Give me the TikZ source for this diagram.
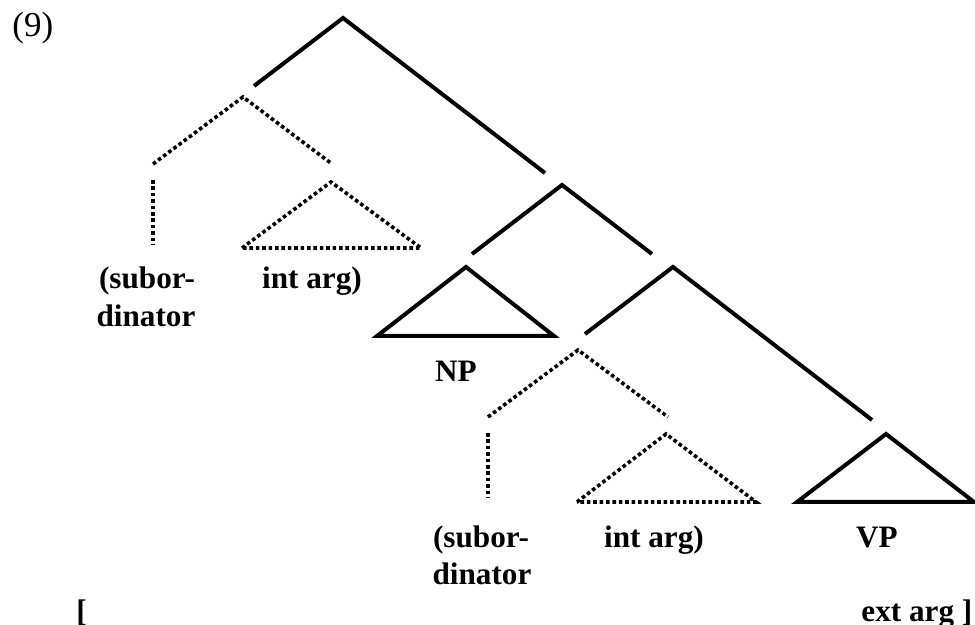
\documentclass[tikz,border=0pt]{standalone}
\usepackage{fontspec}
\setmainfont{Liberation Serif}
\begin{document}
\begin{tikzpicture}[x=0.5pt,y=-0.5pt,
  solidbranch/.style={line width=2pt,line cap=butt,line join=miter},
  dotbranch/.style={line width=1.8pt,dash pattern=on 1.8pt off 1.4pt},
  lab/.style={inner sep=0pt,anchor=base,font=\fontsize{15.6}{19}\selectfont\bfseries},
  num/.style={inner sep=0pt,anchor=base west,font=\fontsize{17.5}{21}\selectfont}]
\useasboundingbox (0,0) rectangle (975,625);
% coordinates
\coordinate (t0) at (343,18);
\coordinate (t0l) at (254,86);
\coordinate (t0r) at (545,173);
\coordinate (d1) at (243,97);
\coordinate (d1l) at (153,164);
\coordinate (d1r) at (332,164);
\coordinate (v1a) at (153,180);
\coordinate (v1b) at (153,245);
\coordinate (tr1) at (331,182);
\coordinate (tr1l) at (242,248);
\coordinate (tr1r) at (421,248);
\coordinate (n2) at (562,185);
\coordinate (n2l) at (472,254);
\coordinate (n2r) at (652,254);
\coordinate (np) at (466,267);
\coordinate (npl) at (377,336);
\coordinate (npr) at (554,336);
\coordinate (n3) at (673,267);
\coordinate (n3l) at (585,334);
\coordinate (n3r) at (872,420);
\coordinate (d2) at (578,350);
\coordinate (d2l) at (488,417);
\coordinate (d2r) at (668,417);
\coordinate (v2a) at (488,433);
\coordinate (v2b) at (488,498);
\coordinate (tr2) at (666,434);
\coordinate (tr2l) at (577,502);
\coordinate (tr2r) at (756,502);
\coordinate (vp) at (886,434);
\coordinate (vpl) at (797,502);
\coordinate (vpr) at (974,502);
% solid branches
\draw[solidbranch] (t0l) -- (t0) -- (t0r);
\draw[solidbranch] (n2l) -- (n2) -- (n2r);
\draw[solidbranch] (npl) -- (np) -- (npr) -- cycle;
\draw[solidbranch] (n3l) -- (n3) -- (n3r);
\draw[solidbranch] (vpl) -- (vp) -- (vpr) -- cycle;
% dotted branches
\draw[dotbranch] (d1l) -- (d1) -- (d1r);
\draw[dotbranch] (v1a) -- (v1b);
\draw[dotbranch] (tr1l) -- (tr1) -- (tr1r) -- cycle;
\draw[dotbranch] (d2l) -- (d2) -- (d2r);
\draw[dotbranch] (v2a) -- (v2b);
\draw[dotbranch] (tr2l) -- (tr2) -- (tr2r) -- cycle;
% labels
\node[num] (ex) at (12,37) {(9)};
\node[lab] (sub1) at (147,289) {(subor-};
\node[lab] (din1) at (146,327) {dinator};
\node[lab] (int1) at (312,289) {int arg)};
\node[lab] (nplab) at (456,382) {NP};
\node[lab] (sub2) at (481,548) {(subor-};
\node[lab] (din2) at (482,585) {dinator};
\node[lab] (int2) at (654,548) {int arg)};
\node[lab] (vplab) at (877,548) {VP};
\node[lab,anchor=base west] (lbr) at (76,621) {[};
\node[lab,anchor=base west] (ext) at (861,621) {ext arg ]};
\end{tikzpicture}
\end{document}
